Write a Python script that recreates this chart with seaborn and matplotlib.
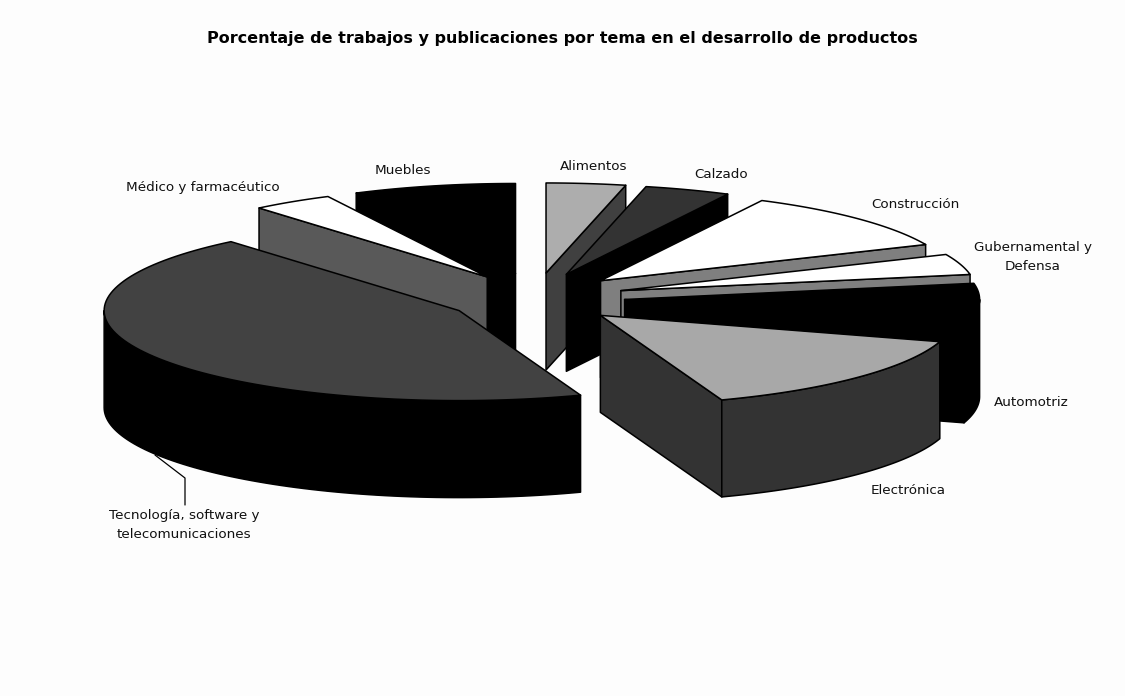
import numpy as np
import matplotlib
matplotlib.use("Agg")
import matplotlib.pyplot as plt
from matplotlib.patches import Polygon
import seaborn as sns

categories = ["Alimentos", "Calzado", "Construcción", "Gubernamental y\nDefensa", "Automotriz",
              "Electrónica", "Tecnología, software y\ntelecomunicaciones",
              "Médico y farmacéutico", "Muebles"]
values = [3.6, 3.9, 10.9, 3.7, 7.6, 14.7, 44.4, 3.7, 7.4]
top_colors = ["#adadad", "#333333", "#ffffff", "#ffffff", "#000000", "#a8a8a8", "#424242", "#ffffff", "#000000"]
side_colors = ["#404040", "#000000", "#7f7f7f", "#7f7f7f", "#000000", "#333333", "#000000", "#595959", "#000000"]
title = "Porcentaje de trabajos y publicaciones por tema en el desarrollo de productos"
label_x = [594, 721, 915, 1033, 1031, 908, 184, 203, 403]
label_y = [167, 174, 205, 257, 403, 490, 525, 187, 170]

sns.set_theme(style="white")
plt.rcParams["font.family"] = ["DejaVu Sans"]

CX, CY, RX, RY, DEPTH, EXPLODE_X, EXPLODE_Y = 536, 298, 355, 90, 97, 0.25, 0.28

fig = plt.figure(figsize=(11.25, 6.96), dpi=100, facecolor="#fdfdfd")
ax = fig.add_axes([0, 0, 1, 1])
ax.set_xlim(0, 1125)
ax.set_ylim(696, 0)
ax.axis("off")
sns.despine(ax=ax, left=True, bottom=True)

frac = np.asarray(values, float) / np.sum(values) * 360
ends = np.cumsum(frac)
starts = ends - frac
mids = (starts + ends) / 2

def rim(ox, oy, t, dz=0.0):
    r = np.radians(t)
    return np.c_[ox + RX * np.sin(r), oy - RY * np.cos(r) + dz]

def add(points, color, z):
    ax.add_patch(Polygon(points, closed=True, fc=color, ec="black", lw=1.1, joinstyle="round", zorder=z))

order = np.argsort(-np.cos(np.radians(mids)))
for rank, i in enumerate(order):
    a, b, m = starts[i], ends[i], np.radians(mids[i])
    ox = CX + EXPLODE_X * RX * np.sin(m)
    oy = CY - EXPLODE_Y * RY * np.cos(m)
    apex = np.array([[ox, oy]])
    z = 2 + rank * 5
    if np.sin(np.radians(a)) < 0:
        p = rim(ox, oy, np.array([a]))
        add(np.vstack([apex, p, p + [0, DEPTH], apex + [0, DEPTH]]), side_colors[i], z)
    if np.sin(np.radians(b)) > 0:
        p = rim(ox, oy, np.array([b]))
        add(np.vstack([apex, p, p + [0, DEPTH], apex + [0, DEPTH]]), side_colors[i], z + 1)
    lo, hi = max(a, 90), min(b, 270)
    if hi > lo:
        t = np.linspace(lo, hi, 80)
        add(np.vstack([rim(ox, oy, t), rim(ox, oy, t[::-1], DEPTH)]), side_colors[i], z + 2)
    t = np.linspace(a, b, 100)
    add(np.vstack([apex, rim(ox, oy, t)]), top_colors[i], z + 3)

ax.plot([155, 185, 185], [455, 478, 505], color="black", lw=0.9, zorder=1)

for name, x, y in zip(categories, label_x, label_y):
    ax.text(x, y, name, ha="center", va="center", fontsize=9.7, color="#111111", linespacing=1.5, zorder=100)
ax.text(562, 38, title, ha="center", va="center", fontsize=11.55, fontweight="bold", color="black")

fig.savefig("out.png", dpi=100, facecolor=fig.get_facecolor())
